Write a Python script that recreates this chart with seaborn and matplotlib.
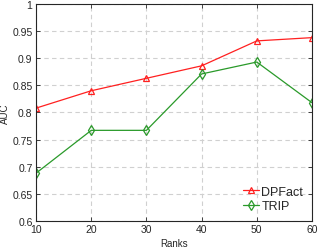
import matplotlib
matplotlib.use('Agg')
import matplotlib.pyplot as plt
import seaborn as sns
import pandas as pd

ranks = [10, 20, 30, 40, 50, 60]
dpfact = [0.808, 0.840, 0.863, 0.886, 0.932, 0.938]
trip = [0.688, 0.767, 0.767, 0.871, 0.893, 0.818]

df = pd.DataFrame({'Ranks': ranks * 2,
                   'AUC': dpfact + trip,
                   'method': ['DPFact'] * 6 + ['TRIP'] * 6})

sns.set_style('ticks')
plt.rcParams['font.family'] = ['Liberation Sans', 'DejaVu Sans']

fig = plt.figure(figsize=(3.19, 2.51), dpi=100)
ax = fig.add_axes([0.113, 0.116, 0.865, 0.864])

palette = {'DPFact': '#ff2020', 'TRIP': '#2a9a2a'}
markers = {'DPFact': '^', 'TRIP': 'd'}
for name in ['DPFact', 'TRIP']:
    sub = df[df['method'] == name]
    sns.lineplot(data=sub, x='Ranks', y='AUC', ax=ax, color=palette[name],
                 marker=markers[name], markersize=5, markerfacecolor='none',
                 markeredgecolor=palette[name], markeredgewidth=0.9,
                 linewidth=0.9, label=name)

ax.set_xlim(10, 60)
ax.set_ylim(0.6, 1.0)
ax.set_xticks(ranks)
ax.set_yticks([0.6, 0.65, 0.7, 0.75, 0.8, 0.85, 0.9, 0.95, 1.0])
ax.set_yticklabels(['0.6', '0.65', '0.7', '0.75', '0.8', '0.85', '0.9', '0.95', '1'])
ax.grid(True, linestyle=(0, (4, 3)), color='#d0d0d0', linewidth=0.8)
ax.tick_params(direction='in', length=3, width=0.6, labelsize=7.5,
               top=True, right=True, colors='#262626', pad=2.5)
for s in ax.spines.values():
    s.set_linewidth(0.8)
    s.set_color('#262626')
ax.set_xlabel('Ranks', fontsize=7, labelpad=2.5)
ax.set_ylabel('AUC', fontsize=7, labelpad=2)
ax.legend(loc='lower right', frameon=False, fontsize=9, handlelength=1.3,
          handletextpad=0.2, labelspacing=0.2, borderaxespad=0.3)

fig.savefig('out.png', dpi=100)
